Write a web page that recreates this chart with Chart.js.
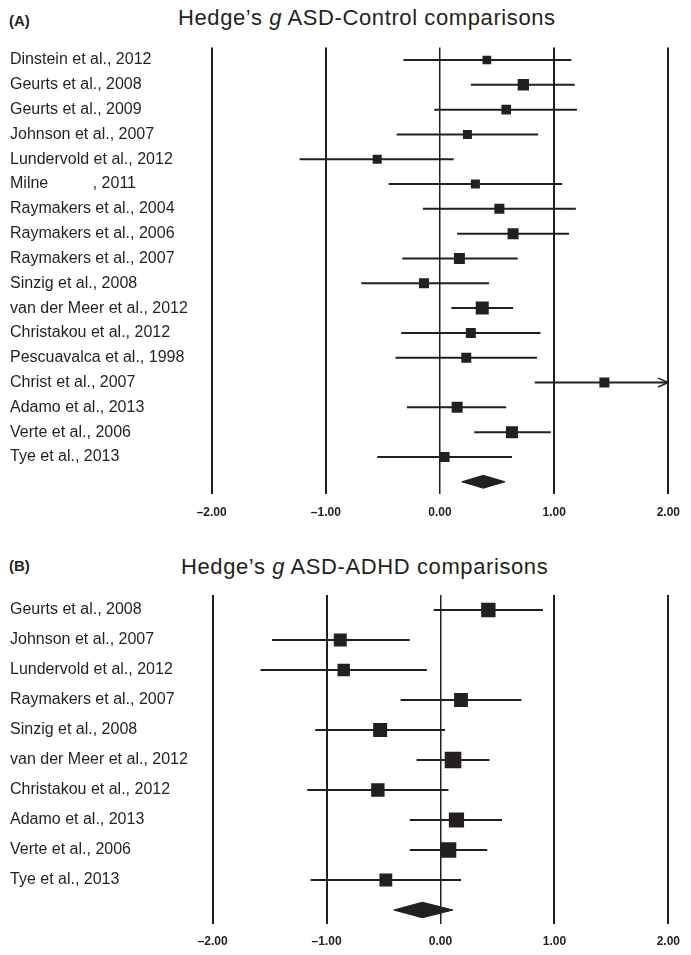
<!DOCTYPE html>
<html>
<head>
<meta charset="utf-8">
<script src="https://cdn.jsdelivr.net/npm/chart.js@4.4.1/dist/chart.umd.min.js"></script>
<style>
  body { margin: 0; background: #fff; }
  #page { position: relative; width: 691px; height: 955px; overflow: hidden;
          font-family: "Liberation Sans", Arial, sans-serif; color: #231f20; }
  .panel { position: absolute; left: 9px; font-weight: bold; font-size: 15px; line-height: 15px; }
  .title { position: absolute; font-size: 22px; line-height: 22px; letter-spacing: 0.6px; white-space: nowrap; }
  canvas { position: absolute; left: 0; }
</style>
</head>
<body>
<div id="page">
  <div class="panel" style="top:13px">(A)</div>
  <div class="title" style="top:7px;left:178px">Hedge’s <i>g</i> ASD-Control comparisons</div>
  <canvas id="chartA" width="691" height="530" style="top:0"></canvas>

  <div class="panel" style="top:558px">(B)</div>
  <div class="title" style="top:556px;left:181px">Hedge’s <i>g</i> ASD-ADHD comparisons</div>
  <canvas id="chartB" width="691" height="410" style="top:545px"></canvas>
</div>
<script>
// shared axis
const xTicks = [-2, -1, 0, 1, 2];

// (A) ASD vs Control
const studiesA = [
    "Dinstein et al., 2012", "Geurts et al., 2008", "Geurts et al., 2009",
    "Johnson et al., 2007", "Lundervold et al., 2012", "Milne          , 2011",
    "Raymakers et al., 2004", "Raymakers et al., 2006", "Raymakers et al., 2007",
    "Sinzig et al., 2008", "van der Meer et al., 2012", "Christakou et al., 2012",
    "Pescuavalca et al., 1998", "Christ et al., 2007", "Adamo et al., 2013",
    "Verte et al., 2006", "Tye et al., 2013"
];
const gA    = [0.41, 0.73, 0.58, 0.24, -0.55, 0.31, 0.52, 0.64, 0.17, -0.14, 0.37, 0.27, 0.23, 1.44, 0.15, 0.63, 0.04];
const lowA  = [-0.32, 0.27, -0.05, -0.38, -1.23, -0.45, -0.15, 0.15, -0.33, -0.69, 0.10, -0.34, -0.39, 0.83, -0.29, 0.30, -0.55];
const highA = [1.15, 1.18, 1.20, 0.86, 0.12, 1.07, 1.19, 1.13, 0.68, 0.43, 0.64, 0.88, 0.85, 2.05, 0.58, 0.97, 0.63];
const weightA = [4.35, 5.7, 4.8, 4.5, 4.5, 4.5, 5.0, 5.5, 5.5, 5.0, 6.5, 5.0, 5.0, 5.0, 5.5, 6.0, 5.0];
const pooledA = [0.19, 0.38, 0.57]; // lower, estimate, upper

// (B) ASD vs ADHD
const studiesB = [
    "Geurts et al., 2008", "Johnson et al., 2007", "Lundervold et al., 2012",
    "Raymakers et al., 2007", "Sinzig et al., 2008", "van der Meer et al., 2012",
    "Christakou et al., 2012", "Adamo et al., 2013", "Verte et al., 2006", "Tye et al., 2013"
];
const gB    = [0.42, -0.88, -0.85, 0.18, -0.53, 0.11, -0.55, 0.14, 0.07, -0.48];
const lowB  = [-0.06, -1.48, -1.58, -0.35, -1.10, -0.21, -1.17, -0.27, -0.27, -1.14];
const highB = [0.90, -0.27, -0.12, 0.71, 0.04, 0.43, 0.07, 0.54, 0.41, 0.18];
const weightB = [7.2, 6.5, 6.2, 6.9, 7.0, 8.3, 6.7, 7.6, 7.8, 6.4];
const pooledB = [-0.41, -0.16, 0.11];

const INK = "#231f20";
const SQ = 2;          // px of square side per weight unit
const DIAMOND_H = 0.26; // half height of pooled diamond, in rows

Chart.defaults.font.family = '"Liberation Sans", Arial, sans-serif';
Chart.defaults.color = INK;

function fmtTick(v) {
    return (v < 0 ? "\u2013" : "") + Math.abs(v).toFixed(2);
}

function forest(id, studies, g, lo, hi, w, pooled, box) {
    const n = studies.length;
    const xMin = xTicks[0], xMax = xTicks[xTicks.length - 1];

    const squares = g.map((v, i) => ({ x: v, y: i }));
    const ci = [];
    lo.forEach((l, i) => {
        ci.push({ x: l, y: i }, { x: Math.min(hi[i], xMax), y: i }, { x: null, y: null });
    });
    // open arrowhead for intervals running past the axis
    const arrows = [];
    hi.forEach((h, i) => {
        if (h > xMax) {
            arrows.push({ x: xMax - 0.09, y: i - 0.18 }, { x: xMax, y: i }, { x: xMax - 0.09, y: i + 0.18 }, { x: null, y: null });
        }
    });
    const diamond = [
        { x: pooled[0], y: n }, { x: pooled[1], y: n - DIAMOND_H },
        { x: pooled[2], y: n }, { x: pooled[1], y: n + DIAMOND_H }, { x: pooled[0], y: n }
    ];

    new Chart(document.getElementById(id), {
        type: "scatter",
        data: {
            datasets: [
                { data: squares, pointStyle: "rect", pointRadius: w.map(v => v * SQ / Math.SQRT2),
                  pointHoverRadius: w.map(v => v * SQ / Math.SQRT2),
                  backgroundColor: INK, borderWidth: 0, showLine: false },
                { data: ci, showLine: true, borderColor: INK, borderWidth: 2, pointRadius: 0, spanGaps: false },
                { data: arrows, showLine: true, borderColor: INK, borderWidth: 1.5, pointRadius: 0, spanGaps: false },
                { data: diamond, showLine: true, borderColor: INK, borderWidth: 1, backgroundColor: INK,
                  fill: "shape", pointRadius: 0 }
            ]
        },
        options: {
            responsive: false,
            animation: false,
            events: [],
            layout: { padding: { top: box.top, left: 10, right: box.right, bottom: 0 } },
            plugins: { legend: { display: false }, tooltip: { enabled: false } },
            scales: {
                x: {
                    type: "linear", min: xMin, max: xMax,
                    afterBuildTicks: s => { s.ticks = xTicks.map(v => ({ value: v })); },
                    afterFit: s => { s.height = box.xh; },
                    grid: { color: INK, drawTicks: false,
                            lineWidth: c => (c.tick && c.tick.value === 0 ? 1.5 : 2) },
                    border: { display: false },
                    ticks: { padding: 11, color: INK, font: { size: 12, weight: "bold" }, callback: fmtTick }
                },
                y: {
                    type: "linear", reverse: true, min: -0.5, max: box.yMax,
                    afterBuildTicks: s => { s.ticks = studies.map((_, i) => ({ value: i })); },
                    afterFit: s => { s.width = box.yw; },
                    grid: { display: false },
                    border: { display: false },
                    ticks: { autoSkip: false, crossAlign: "far", padding: 0, color: INK,
                             font: { size: 16 }, callback: v => studies[v] ?? "" }
                }
            }
        }
    });
}

forest("chartA", studiesA, gA, lowA, highA, weightA, pooledA,
       { top: 47.6, right: 22.3, xh: 35.8, yw: 201.7, yMax: 17.5 });
forest("chartB", studiesB, gB, lowB, highB, weightB, pooledB,
       { top: 50, right: 20.7, xh: 31.5, yw: 202.7, yMax: 10.45 });
</script>
</body>
</html>
